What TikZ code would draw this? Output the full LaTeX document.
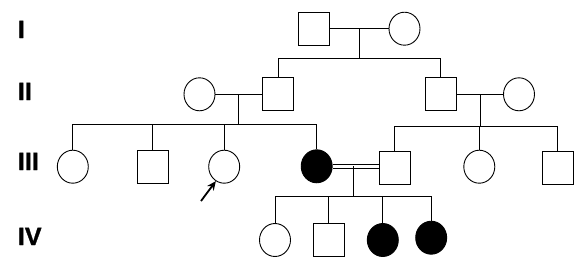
\documentclass[tikz,border=0pt]{standalone}
\usepackage{fontspec}
\setmainfont{Liberation Sans}
\newfontfamily\genfont{Liberation Sans Bold}[FakeBold=1.2]
\usetikzlibrary{shapes.geometric,arrows.meta,calc}
\begin{document}
\begin{tikzpicture}[x=1pt,y=-1pt,line width=0.9pt,
  male/.style={draw,rectangle,inner sep=0,minimum width=31pt,minimum height=33pt},
  female/.style={draw,ellipse,inner sep=0,minimum width=31pt,minimum height=33pt},
  affected/.style={female,fill=black},
  gen/.style={anchor=base west,inner sep=0,font=\genfont\fontsize{25}{25}\selectfont},
  link/.style={draw,line width=0.9pt}]
\useasboundingbox (0,0) rectangle (579,263);
% generation labels
\node[gen] (gI) at (17.5,38) {I};
\node[gen] (gII) at (17.5,100) {II};
\node[gen] (gIII) at (17.5,170) {III};
\node[gen] (gIV) at (17.5,245) {IV};
% generation I
\node[male] (I1) at (314,28.7) {};
\node[female] (I2) at (404.5,28.7) {};
% generation II
\node[female] (II1) at (199.5,94.3) {};
\node[male] (II2) at (278,94.3) {};
\node[male] (II3) at (440.5,94.3) {};
\node[female] (II4) at (519,94.3) {};
% generation III
\node[female] (III1) at (72.8,166.7) {};
\node[male] (III2) at (152.8,166.7) {};
\node[female] (III3) at (224.2,166.7) {};
\node[affected] (III4) at (316.7,166.3) {};
\node[male] (III5) at (394.7,168) {};
\node[female] (III6) at (479.3,166.7) {};
\node[male] (III7) at (557.7,168) {};
% generation IV
\node[female] (IV1) at (275,240) {};
\node[male] (IV2) at (328.7,240) {};
\node[affected] (IV3) at (382.8,240) {};
\node[affected] (IV4) at (431.2,237.7) {};
% junction coordinates
\coordinate (m1) at (359.3,28.7);
\coordinate (s1) at (359.3,58.3);
\coordinate (m2) at (238.7,94.3);
\coordinate (s2) at (238.7,124);
\coordinate (m3) at (480,94.3);
\coordinate (s3) at (480,126);
\coordinate (m4) at (353.3,166.3);
\coordinate (s4) at (353.3,196);
\coordinate (arr) at (201,201);
% generation I family
\draw[link] (I1.east) -- (I2.west);
\draw[link] (m1) -- (s1);
\draw[link] (II2.north) -- (II2.north |- s1) -- (II3.north |- s1) -- (II3.north);
% left family II
\draw[link] (II1.east) -- (II2.west);
\draw[link] (m2) -- (s2);
\draw[link] (III1.north) -- (III1.north |- s2) -- (III4.north |- s2) -- (III4.north);
\draw[link] (III2.north) -- (III2.north |- s2);
\draw[link] (III3.north) -- (III3.north |- s2);
% right family II
\draw[link] (II3.east) -- (II4.west);
\draw[link] (m3) -- (s3);
\draw[link] (III5.north) -- (III5.north |- s3) -- (III7.north |- s3) -- (III7.north);
\draw[link] (III6.north) -- (III6.north |- s3);
% consanguineous couple
\draw[line width=0.9pt,double distance=3pt] (III4.east) -- (III4.east -| III5.west);
\draw[link] (m4) -- (s4);
\draw[link] (IV1.north) -- (IV1.north |- s4) -- (IV4.north |- s4) -- (IV4.north);
\draw[link] (IV2.north) -- (IV2.north |- s4);
\draw[link] (IV3.north) -- (IV3.north |- s4);
% proband arrow
\draw[line width=1.8pt,-{Stealth[length=9pt,width=8pt]}] (arr) -- (III3.-120);
\end{tikzpicture}
\end{document}
